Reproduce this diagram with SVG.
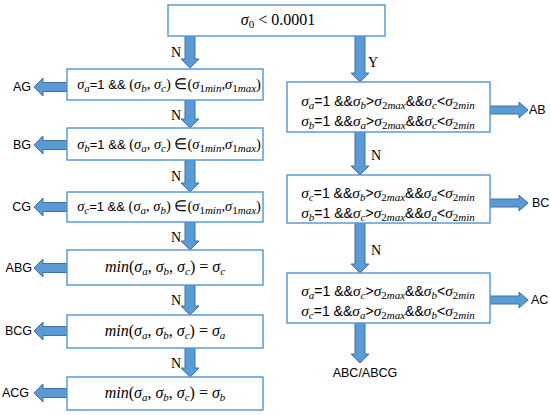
<svg xmlns="http://www.w3.org/2000/svg" width="550" height="415" viewBox="0 0 550 415">
<style>
.box{fill:#fff;stroke:#5b9bd5;stroke-width:1.5}
.arr{fill:#5b9bd5;stroke:#41719c;stroke-width:1}
.t{font-family:"Liberation Serif",serif;font-size:15px;fill:#000}
.tl{font-size:14.5px}
.tr{font-size:15.5px}
.m{font-style:italic}
.s{font-family:"Liberation Sans",sans-serif;font-size:13px}
.tr .s{font-size:14px}
.sb{font-size:11px;baseline-shift:-3px}
.lbl{font-family:"Liberation Sans",sans-serif;font-size:12.5px;fill:#000}
.yn{font-family:"Liberation Serif",serif;font-size:14px;fill:#000}
</style>
<g id="connectors">
<path class="arr" d="M185 36 L195 36 L195 59 L199 59 L190 68 L181 59 L185 59 Z"/>
<path class="arr" d="M185 100 L195 100 L195 119 L199 119 L190 128 L181 119 L185 119 Z"/>
<path class="arr" d="M185 160 L195 160 L195 183 L199 183 L190 192 L181 183 L185 183 Z"/>
<path class="arr" d="M185 222 L195 222 L195 241 L199 241 L190 250 L181 241 L185 241 Z"/>
<path class="arr" d="M185 285 L195 285 L195 306 L199 306 L190 315 L181 306 L185 306 Z"/>
<path class="arr" d="M185 348 L195 348 L195 368 L199 368 L190 377 L181 368 L185 368 Z"/>
<path class="arr" d="M355 36 L365 36 L365 73 L369 73 L360 82 L351 73 L355 73 Z"/>
<path class="arr" d="M355 132 L365 132 L365 166 L369 166 L360 175 L351 166 L355 166 Z"/>
<path class="arr" d="M355 223 L365 223 L365 264 L369 264 L360 273 L351 264 L355 264 Z"/>
<path class="arr" d="M355 323 L365 323 L365 354 L369 354 L360 363 L351 354 L355 354 Z"/>
<path class="arr" d="M67 82.5 L43 82.5 L43 78 L34 87 L43 96 L43 91.5 L67 91.5 Z"/>
<path class="arr" d="M67 140.5 L43 140.5 L43 136 L34 145 L43 154 L43 149.5 L67 149.5 Z"/>
<path class="arr" d="M67 202.5 L43 202.5 L43 198 L34 207 L43 216 L43 211.5 L67 211.5 Z"/>
<path class="arr" d="M67 263.5 L43 263.5 L43 259 L34 268 L43 277 L43 272.5 L67 272.5 Z"/>
<path class="arr" d="M67 326.5 L43 326.5 L43 322 L34 331 L43 340 L43 335.5 L67 335.5 Z"/>
<path class="arr" d="M67 388.5 L43 388.5 L43 384 L34 393 L43 402 L43 397.5 L67 397.5 Z"/>
<path class="arr" d="M490 106 L519 106 L519 102 L528 110 L519 118 L519 114 L490 114 Z"/>
<path class="arr" d="M490 199 L519 199 L519 195 L528 203 L519 211 L519 207 L490 207 Z"/>
<path class="arr" d="M490 296 L519 296 L519 292 L528 300 L519 308 L519 304 L490 304 Z"/>
<text class="yn" x="176" y="57" text-anchor="middle">N</text>
<text class="yn" x="176" y="120" text-anchor="middle">N</text>
<text class="yn" x="176" y="181" text-anchor="middle">N</text>
<text class="yn" x="176" y="242" text-anchor="middle">N</text>
<text class="yn" x="176" y="305" text-anchor="middle">N</text>
<text class="yn" x="176" y="368" text-anchor="middle">N</text>
<text class="yn" x="373" y="67" text-anchor="middle">Y</text>
<text class="yn" x="376" y="160" text-anchor="middle">N</text>
<text class="yn" x="376" y="255" text-anchor="middle">N</text>
</g>
<g id="n0"><rect class="box" x="168" y="5" width="217" height="31"/>
<text class="t" x="278" y="25" text-anchor="middle" style="font-size:16px"><tspan class="m">σ</tspan><tspan class="sb">0</tspan> &lt; 0.0001</text></g>
<g id="n1"><rect class="box" x="67" y="69" width="196" height="31"/>
<text class="t tl" x="169" y="89" text-anchor="middle"><tspan class="m">σ</tspan><tspan class="m sb">a</tspan><tspan class="s">=1 &amp;&amp; </tspan>(<tspan class="m">σ</tspan><tspan class="m sb">b</tspan>, <tspan class="m">σ</tspan><tspan class="m sb">c</tspan>) ∈(<tspan class="m">σ</tspan><tspan class="sb">1</tspan><tspan class="m sb">min</tspan>,<tspan class="m">σ</tspan><tspan class="sb">1</tspan><tspan class="m sb">max</tspan>)</text></g>
<g id="n2"><rect class="box" x="67" y="128" width="196" height="32"/>
<text class="t tl" x="169" y="149" text-anchor="middle"><tspan class="m">σ</tspan><tspan class="m sb">b</tspan><tspan class="s">=1 &amp;&amp; </tspan>(<tspan class="m">σ</tspan><tspan class="m sb">a</tspan>, <tspan class="m">σ</tspan><tspan class="m sb">c</tspan>) ∈(<tspan class="m">σ</tspan><tspan class="sb">1</tspan><tspan class="m sb">min</tspan>,<tspan class="m">σ</tspan><tspan class="sb">1</tspan><tspan class="m sb">max</tspan>)</text></g>
<g id="n3"><rect class="box" x="67" y="192" width="196" height="30"/>
<text class="t tl" x="169" y="211" text-anchor="middle"><tspan class="m">σ</tspan><tspan class="m sb">c</tspan><tspan class="s">=1 &amp;&amp; </tspan>(<tspan class="m">σ</tspan><tspan class="m sb">a</tspan>, <tspan class="m">σ</tspan><tspan class="m sb">b</tspan>) ∈(<tspan class="m">σ</tspan><tspan class="sb">1</tspan><tspan class="m sb">min</tspan>,<tspan class="m">σ</tspan><tspan class="sb">1</tspan><tspan class="m sb">max</tspan>)</text></g>
<g id="n4"><rect class="box" x="67" y="250" width="196" height="35"/>
<text class="t" x="165" y="272" text-anchor="middle" style="font-size:16px"><tspan class="m">min</tspan>(<tspan class="m">σ</tspan><tspan class="m sb">a</tspan>, <tspan class="m">σ</tspan><tspan class="m sb">b</tspan>, <tspan class="m">σ</tspan><tspan class="m sb">c</tspan>) = <tspan class="m">σ</tspan><tspan class="m sb">c</tspan></text></g>
<g id="n5"><rect class="box" x="67" y="315" width="196" height="33"/>
<text class="t" x="165" y="336" text-anchor="middle" style="font-size:16px"><tspan class="m">min</tspan>(<tspan class="m">σ</tspan><tspan class="m sb">a</tspan>, <tspan class="m">σ</tspan><tspan class="m sb">b</tspan>, <tspan class="m">σ</tspan><tspan class="m sb">c</tspan>) = <tspan class="m">σ</tspan><tspan class="m sb">a</tspan></text></g>
<g id="n6"><rect class="box" x="67" y="377" width="196" height="33"/>
<text class="t" x="165" y="398" text-anchor="middle" style="font-size:16px"><tspan class="m">min</tspan>(<tspan class="m">σ</tspan><tspan class="m sb">a</tspan>, <tspan class="m">σ</tspan><tspan class="m sb">b</tspan>, <tspan class="m">σ</tspan><tspan class="m sb">c</tspan>) = <tspan class="m">σ</tspan><tspan class="m sb">b</tspan></text></g>
<g id="nA"><rect class="box" x="287" y="82" width="203" height="50"/>
<text class="t tr" x="388" y="106" text-anchor="middle"><tspan class="m">σ</tspan><tspan class="m sb">a</tspan><tspan class="s">=1 &amp;&amp;</tspan><tspan class="m">σ</tspan><tspan class="m sb">b</tspan><tspan class="s">&gt;</tspan><tspan class="m">σ</tspan><tspan class="sb">2</tspan><tspan class="m sb">max</tspan><tspan class="s">&amp;&amp;</tspan><tspan class="m">σ</tspan><tspan class="m sb">c</tspan><tspan class="s">&lt;</tspan><tspan class="m">σ</tspan><tspan class="sb">2</tspan><tspan class="m sb">min</tspan></text>
<text class="t tr" x="388" y="126" text-anchor="middle"><tspan class="m">σ</tspan><tspan class="m sb">b</tspan><tspan class="s">=1 &amp;&amp;</tspan><tspan class="m">σ</tspan><tspan class="m sb">a</tspan><tspan class="s">&gt;</tspan><tspan class="m">σ</tspan><tspan class="sb">2</tspan><tspan class="m sb">max</tspan><tspan class="s">&amp;&amp;</tspan><tspan class="m">σ</tspan><tspan class="m sb">c</tspan><tspan class="s">&lt;</tspan><tspan class="m">σ</tspan><tspan class="sb">2</tspan><tspan class="m sb">min</tspan></text></g>
<g id="nB"><rect class="box" x="287" y="175" width="203" height="48"/>
<text class="t tr" x="388" y="198" text-anchor="middle"><tspan class="m">σ</tspan><tspan class="m sb">c</tspan><tspan class="s">=1 &amp;&amp;</tspan><tspan class="m">σ</tspan><tspan class="m sb">b</tspan><tspan class="s">&gt;</tspan><tspan class="m">σ</tspan><tspan class="sb">2</tspan><tspan class="m sb">max</tspan><tspan class="s">&amp;&amp;</tspan><tspan class="m">σ</tspan><tspan class="m sb">a</tspan><tspan class="s">&lt;</tspan><tspan class="m">σ</tspan><tspan class="sb">2</tspan><tspan class="m sb">min</tspan></text>
<text class="t tr" x="388" y="218" text-anchor="middle"><tspan class="m">σ</tspan><tspan class="m sb">b</tspan><tspan class="s">=1 &amp;&amp;</tspan><tspan class="m">σ</tspan><tspan class="m sb">c</tspan><tspan class="s">&gt;</tspan><tspan class="m">σ</tspan><tspan class="sb">2</tspan><tspan class="m sb">max</tspan><tspan class="s">&amp;&amp;</tspan><tspan class="m">σ</tspan><tspan class="m sb">a</tspan><tspan class="s">&lt;</tspan><tspan class="m">σ</tspan><tspan class="sb">2</tspan><tspan class="m sb">min</tspan></text></g>
<g id="nC"><rect class="box" x="287" y="273" width="203" height="50"/>
<text class="t tr" x="388" y="296" text-anchor="middle"><tspan class="m">σ</tspan><tspan class="m sb">a</tspan><tspan class="s">=1 &amp;&amp;</tspan><tspan class="m">σ</tspan><tspan class="m sb">c</tspan><tspan class="s">&gt;</tspan><tspan class="m">σ</tspan><tspan class="sb">2</tspan><tspan class="m sb">max</tspan><tspan class="s">&amp;&amp;</tspan><tspan class="m">σ</tspan><tspan class="m sb">b</tspan><tspan class="s">&lt;</tspan><tspan class="m">σ</tspan><tspan class="sb">2</tspan><tspan class="m sb">min</tspan></text>
<text class="t tr" x="388" y="316" text-anchor="middle"><tspan class="m">σ</tspan><tspan class="m sb">c</tspan><tspan class="s">=1 &amp;&amp;</tspan><tspan class="m">σ</tspan><tspan class="m sb">a</tspan><tspan class="s">&gt;</tspan><tspan class="m">σ</tspan><tspan class="sb">2</tspan><tspan class="m sb">max</tspan><tspan class="s">&amp;&amp;</tspan><tspan class="m">σ</tspan><tspan class="m sb">b</tspan><tspan class="s">&lt;</tspan><tspan class="m">σ</tspan><tspan class="sb">2</tspan><tspan class="m sb">min</tspan></text></g>
<g id="lAG"><text class="lbl" x="31" y="91" text-anchor="end">AG</text></g>
<g id="lBG"><text class="lbl" x="31" y="149" text-anchor="end">BG</text></g>
<g id="lCG"><text class="lbl" x="31" y="211" text-anchor="end">CG</text></g>
<g id="lABG"><text class="lbl" x="32" y="272" text-anchor="end">ABG</text></g>
<g id="lBCG"><text class="lbl" x="32" y="335" text-anchor="end">BCG</text></g>
<g id="lACG"><text class="lbl" x="29" y="397" text-anchor="end">ACG</text></g>
<g id="lAB"><text class="lbl" x="529" y="114">AB</text></g>
<g id="lBC"><text class="lbl" x="532" y="207">BC</text></g>
<g id="lAC"><text class="lbl" x="531" y="304">AC</text></g>
<g id="lABC"><text class="lbl" x="365" y="377" text-anchor="middle">ABC/ABCG</text></g>
</svg>
